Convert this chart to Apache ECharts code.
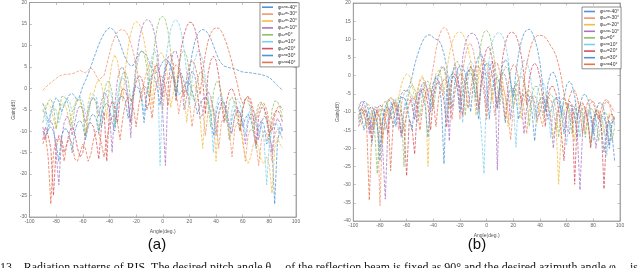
<!DOCTYPE html>
<html><head><meta charset="utf-8">
<script src="https://cdn.jsdelivr.net/npm/echarts@6/dist/echarts.min.js"></script>
<style>html,body{margin:0;padding:0;background:#fff;}#c{width:640px;height:268px;}</style>
</head><body><div id="c"></div>
<script>
// ---------- DATA ----------
const azLabels = ['-40°','-30°','-20°','-10°','0°','10°','20°','30°','40°'];
const xTicks = [-100,-80,-60,-40,-20,0,20,40,60,80,100];
const leftAngles = [-90,-88,-86,-84,-82,-80,-78,-76,-74,-72,
 -70,-68,-66,-64,-62,-60,-58,-56,-54,-52,
 -50,-48,-46,-44,-42,-40,-38,-36,-34,-32,
 -30,-28,-26,-24,-22,-20,-18,-16,-14,-12,
 -10,-8,-6,-4,-2,0,2,4,6,8,
 10,12,14,16,18,20,22,24,26,28,
 30,32,34,36,38,40,42,44,46,48,
 50,52,54,56,58,60,62,64,66,68,
 70,72,74,76,78,80,82,84,86,88,90];
const rightAngles = [-96,-94,-92,-90,-88,-86,-84,-82,-80,-78,
 -76,-74,-72,-70,-68,-66,-64,-62,-60,-58,
 -56,-54,-52,-50,-48,-46,-44,-42,-40,-38,
 -36,-34,-32,-30,-28,-26,-24,-22,-20,-18,
 -16,-14,-12,-10,-8,-6,-4,-2,0,2,
 4,6,8,10,12,14,16,18,20,22,
 24,26,28,30,32,34,36,38,40,42,
 44,46,48,50,52,54,56,58,60,62,
 64,66,68,70,72,74,76,78,80,82,
 84,86,88,90,92,94,96];

// (a) gains, dB
const gainA1 = [-3.5,-5,-8,-5.5,-3.5,-2.2,-3,-5.5,-4,-2.5,
 -1.5,-1.2,-1.8,-3,-1.5,0.5,1.8,3.3,5,6.8,
 8.5,10.2,11.6,12.8,13.7,14.1,13.9,13.2,12,10.4,
 8.6,7,5.8,5.2,5.4,6.8,8,8.6,8.4,7.5,
 6,4.5,3.5,3.8,5,6.2,6.8,6.5,5.2,3,
 0.5,-1.5,-1,0.5,1.5,1.2,-0.5,-3,-6,-4,
 -2.5,-2,-3,-6,-11,-6,-3.5,-2.8,-3.5,-6,
 -12,-7,-5,-4.5,-6,-9,-7,-6,-7,-10,
 -14,-9,-7.5,-8.5,-13,-11,-14,-27,-13,-9,-10];
const gainA2 = [-0.5,0.2,0.8,1.3,1.8,2.3,2.8,3.1,3.2,3.3,
 3.3,3.4,3.6,3.9,4.2,3.8,3.6,4.2,4.8,4.2,
 3,1.8,2.5,3,5.5,8,10.3,12,13.1,13.6,
 13.7,13.3,12.3,10.6,8.3,5.5,2,-3,1.5,4,
 5.5,5.8,5,3,-0.5,-5,0.5,2.5,3,2.2,
 -0.5,-6,-2,-0.5,-0.8,-3,-9,-4,-2.5,-2.8,
 -5,-11,-5.5,-4,-4.5,-7.5,-14,-8,-6.5,-7,
 -10,-16,-9.5,-8,-8.5,-11.5,-17,-11,-9.5,-10,
 -13,-18,-12,-10,-10.5,-13,-17,-11,-9.5,-10,-12];
const gainA3 = [-5.5,-4,-3.5,-4.5,-7,-9.5,-5.5,-3.8,-3.5,-5,
 -8.5,-6,-3.5,-2.5,-3,-5.5,-11,-3.5,-1,-1.5,
 1,2,1,-2.5,-7,2,6,7.8,6.5,2,
 -3,4.5,9.5,12.8,14.9,15.6,15.2,13.8,11.2,7.5,
 2.5,-4,3.5,7,8.3,8,6,2,-4.5,-1,
 2.5,3.5,2.5,-1,-8,-2,0.5,0.8,-1.5,-7,
 -14,-5,-2.5,-2.5,-5,-17,-6,-4,-4.2,-6.5,
 -12,-10,-6.5,-5.5,-7,-13,-16,-17.5,-16,-13,
 -12,-14,-17,-17.5,-16,-18,-24.5,-14,-11.5,-13,-14];
const gainA4 = [-9,-12,-9,-7.5,-9,-15,-22.5,-12,-8,-6.5,
 -7.5,-11,-8,-5,-4,-5,-8,-5.5,-3,-2.2,
 -3,-6.5,-3,-1,-1.5,-5,-15,-4,2,4.5,
 5,3,-2,-11.5,-1,6,10.8,13.8,15.4,16,
 15.8,14.8,12.5,8.5,2.5,-6,-18,0,6,8.5,
 8.7,6.5,2,-5,-2,2.5,4,3,-0.5,-7,
 -6,-2,-0.8,-1.8,-5,-11,-6,-3.5,-3.2,-5,
 -9,-10.5,-6.5,-5,-5.5,-8,-13,-8,-6,-6.5,
 -8.5,-12,-8,-6.5,-7,-10,-15,-9,-7,-8,-10];
const gainA5 = [-8,-5,-3,-2.5,-4,-9.5,-6,-2,-1.8,-2.8,
 -5,-9,-4.5,-2.5,-2.5,-4.5,-11,-6.5,-3,-2,
 -3.5,-10,-6,-1,1.5,1.5,-1,-9,-4,1,
 3.5,3.8,2,-3,-2,4,7.5,8.8,8.2,5,
 -2,5,10.5,14.5,16.4,16.8,16,13.2,8.5,2,
 -2,5,8.2,8.8,7.5,4,-2,-3,2,3.8,
 3.5,1,-4,-9,-1,1.5,1.5,-1,-6,-8,
 -3,-2,-3.5,-7.5,-10,-4.5,-2.5,-2.8,-5,-10,
 -6,-3.5,-3.2,-4.5,-8,-12,-5,-3,-3,-4.5,-7];
const gainA6 = [-5,-6.5,-10,-6,-4.5,-5,-8,-6,-3.5,-2.5,
 -3,-5.5,-4.5,-2.5,-2,-3,-6,-5,-2.5,-1.5,
 -2,-4.5,-9,-3,-0.5,-0.5,-2.5,-9,-1.5,1.5,
 2.5,1.5,-2.5,-8,-0.5,2.5,2,-1,-6,-1,
 4,7.5,8.8,6.8,-18,0,6,10.5,13.8,15.5,
 16,15.2,12.8,9,3.5,-4,2,6.5,8.6,8.4,
 6.5,2.5,-2,-6,-15,-4.5,-2,-1.8,-3.5,-7,
 -9,-5,-3,-2.5,-3.5,-6.5,-11,-6.5,-4.5,-5,
 -7,-11,-8.5,-12,-22.5,-13,-10,-8,-8.5,-11,-9];
const gainA7 = [-12,-9,-11,-14,-25,-14,-11,-11.5,-15,-13,
 -10,-9,-10.5,-14,-16,-15,-11,-8.5,-8,-9,
 -12,-16.5,-9,-5.5,-17,-5,-3,-4,-8,-2,
 0,-0.5,-3,-8,-2,1.5,3,2.5,0,-5,
 -3,2.5,5,5.5,2.5,-2,4,7.3,7.8,5.5,
 -3,5,9.5,12.5,14.5,15.4,15.3,14,11.5,7.5,
 2,-6,3.5,6.5,7.5,6.5,3,-3,-8,-3,
 -0.5,0,-1.5,-5,-10,-5,-2.5,-2,-3.5,-7,
 -13,-6.5,-4.5,-4.5,-6.5,-11,-8,-5.5,-5,-6,-8];
const gainA8 = [-10,-11,-9.5,-9,-10,-13,-17,-11,-9.5,-9.5,
 -11,-15,-10,-8,-7.5,-8.5,-12,-9,-6.5,-6,
 -7,-10.5,-6,-4,-3.5,-4.5,-8,-10,-4,-2,
 -1.8,-3,-7,-4,-0.5,0.5,0,-2.5,-8,-1.5,
 2,3,2.5,0,-4,2,5,6,5.2,2.5,
 -2,3,3.5,1.5,-1,4,8,10.8,12.5,13.4,
 13.7,13.5,12.8,11.6,10,8.3,6.8,5.8,5.2,5,
 4.8,4.7,4.5,4.3,4,3.8,3.7,3.7,3.6,3.5,
 3.4,3.3,3.2,3,2.8,2.5,2,1.3,0.7,0.1,-0.5];
const gainA9 = [-13,-11,-16,-27,-15,-12,-11.5,-13,-17,-13,
 -11.5,-13,-16.5,-17,-15,-13,-14,-17,-15.5,-12,
 -10,-10.5,-13,-16,-12,-8.5,-6.5,-6.5,-8,-12,
 -7,-3.5,-2,-2.5,-4.5,-9,-4,-0.5,0.5,0,
 -2.5,-7,-1,2,3,2.5,0,-4,1.5,4.5,
 5.5,4.8,2,-2,2.5,5.5,6.5,5.5,3,-1.5,
 4,8,11,12.8,13.8,14.1,14,13.3,12,10.3,
 8.3,6,3.5,1,-2,-3.5,-2.5,-1.8,-2.5,-5,
 -7.5,-5,-3.5,-3.5,-5,-8,-10,-6.5,-4.5,-4,-5];

// (b) gains, dB
const gainB1 = [-12,-9,-7,-7.5,-10.5,-15,-10,-13,-23.5,-12,
 -8.5,-6.5,-7,-9.5,-14,-8,-5,-4,-4.5,-3,
 -0.5,3,5.5,7.8,9.5,10.7,11.2,11.2,10.5,10,
 9.8,8.5,6,2.5,-3,-9,-2,1.5,2.8,2.5,
 0.5,-3.5,-10,-2,3,5.5,6,4,-2,-12,
 -4,-1,-0.5,-2.5,-7,-13,-6,-3.5,-3.5,-6,
 -12,-8,-5,-4.5,-6,-10,-18,-9,-6.5,-6,
 -7.5,-12,-10,-7,-6,-7,-10,-16,-10,-8,
 -8.5,-11,-17,-11,-9,-9.5,-12,-19,-13,-10.5,
 -11,-14,-21,-15,-12.5,-16,-23.5];
const gainB2 = [-7.8,-8.5,-9,-11,-15,-11,-9,-10,-35.8,-12,
 -11,-7.5,-6,-6.5,-9,-15,-8,-5,-4,-4.5,
 -7.5,-12,-5,-1.5,-0.5,-1.5,-6,-2,2.5,7,
 10.5,12.5,13.3,12.8,11,8,4,-2,-12,1,
 5.5,8.3,9,7,2.5,-10,-2,0.5,1,-0.5,
 -4,-11,-6,-3,-3,-5.5,-10,-17.7,-9,-5.5,
 -4.5,-5.5,-9,-16,-9,-6,-5.5,-7,-11,-14,
 -8,-6,-6.5,-9,-15,-9,-6.5,-6,-7.5,-12,
 -13,-8.5,-7,-7.5,-10,-16,-10,-7.5,-7,-8.5,
 -12,-11,-8,-7,-8,-10.5,-14];
const gainB3 = [-11,-13.5,-10,-8,-8,-10,-14,-11,-9,-18.8,
 -10,-7,-6,-7,-10,-6,-2.5,-0.5,0.5,0,
 -2,-6.5,-4,-1,0,-4,-25,-6,-2,0.5,
 1.5,0,-5,1,6,9,11,11.9,12,11.5,
 10,7.5,4,-2,-11,0,3.5,4.5,3.5,0,
 -7,-3,0,0.5,-1.5,-6,-14,-6,-3.5,-3.5,
 -6,-12,-7,-4.5,-4,-5.5,-9.5,-13,-7,-5,
 -5,-7,-11,-17,-13,-29.9,-15,-10,-8.5,-9,
 -12,-18,-11,-8.5,-8,-9.5,-13,-19,-12,-9.5,
 -9.5,-11.5,-16,-13,-10.5,-11,-13];
const gainB4 = [-9,-7,-7.5,-10,-16,-11,-8.5,-9,-12,-20,
 -34,-14,-9,-7.5,-8.5,-12,-17,-10,-7,-6.5,
 -8,-12,-8,-4,-2,-2,-4.5,-10,-4,0,
 0,2,2.5,0,-18,0,3,2,-8,5,
 9,10.9,11.6,11.7,10.9,9,5,-1,-9,1.5,
 4,2,-26,-1,1,0,-4,-12,-4,-2,
 -3,-7,-16,-9,-6,-5.5,-7.5,-12,-10,-7,
 -6.5,-8,-12,-20,-12,-9,-8.5,-10,-14,-16,
 -9.5,-11,-16,-31.5,-15,-11,-10,-11,-14,-20,
 -13,-11,-11.5,-14,-19,-13,-12];
const gainB5 = [-10,-9,-10.5,-14,-12,-9.5,-15,-27,-12,-8,
 -7,-8.5,-12,-9,-6.5,-6,-8.5,-25,-8,-4,
 -2.5,-3.5,-7.5,-11.5,-5,-2,-1.5,-3.5,-9,-4,
 0.5,2.5,2,-1.5,-9,-1,3,4,2.5,-2,
 -11,-1,2.5,0.5,-6,4,9.5,12,12.5,11.5,
 8.5,4,-3,-8,0.5,2.5,2,-1.5,-9,-3,
 -0.5,0,-1.5,-6,-14,-5,-3,-3,-5.5,-11,
 -9,-6,-5,-6,-9.5,-17,-10,-7.5,-7.5,-10,
 -16,-10.5,-8.5,-9,-11.5,-17,-11,-9,-9.5,-12,
 -18,-12,-10,-10.5,-13,-18,-14];
const gainB6 = [-13,-10,-9,-10,-13,-19,-12,-9.5,-9,-10.5,
 -15,-12,-8,-6.5,-7,-10,-16,-9,-5.5,-4.5,
 -5.5,-9,-13,-6,-3,-2.5,-4,-9,-6,-1.5,
 0,-0.5,-4,-12,-3,1,2,0.5,-4,-13,
 -2,2.5,4,3,-1,-8,-15,-27,-2,5,
 9,11,11.7,11.8,11,8.8,5,-1,-8,-19.7,
 -4,2,4.3,4,1.5,-3,-12,-5,-2,-1.5,
 -3.5,-8,-17,-9,-6,-6,-8,-13,-19,-11,
 -8.5,-8.5,-11,-17,-12,-9.5,-9.5,-12,-18,-13,
 -10.5,-11,-14,-22,-14,-12,-13];
const gainB7 = [-14,-11,-9.5,-10,-12.5,-18,-12,-9,-8,-9,
 -12,-16,-10,-7.5,-7.5,-10,-16,-14,-27.6,-12,
 -14,-21.6,-9,-5,-3.5,-4.5,-8,-15,-6,-2.5,
 -1.5,-3,-7,-14.2,-5,-1,0.5,-0.5,-4,-11,
 -3,1,2.5,1.5,-2,-9,-1,4.5,7.5,8,
 5,-2,-9,-2,5,9,11.2,12,11.9,11,
 9,5.5,0,-8,-1,2.5,3.5,2.5,-0.5,-6,
 -14,-5.5,-3,-3,-5,-9.5,-16,-23.4,-10,-7,
 -8,-29.9,-11,-8,-7.5,-9,-13,-20,-12,-9.5,
 -10,-14,-31.2,-15,-11,-10.5,-12];
const gainB8 = [-9,-11,-15,-11.5,-9,-8.5,-10,-14,-20,-12,
 -9,-8.5,-10,-14,-12,-8,-6,-6,-7.5,-12,
 -15,-8,-5,-4,-5,-8.5,-17,-6,-2,-0.5,
 -1.5,-7,-24.3,-4,-0.5,0.5,-0.5,-3.5,-10,-5,
 -0.5,1.5,1,-1.5,-7,-12,-2,2,3.5,3,
 0.5,-4,-9,-1.5,3,4.5,3.5,-2,-6,1,
 6,9.5,11.7,12.6,12.8,12,10.2,7.5,3.5,-2.5,
 -10,-2,0.5,1,-0.5,-4,-11,-6,-2.5,-1.5,
 -2.5,-5.5,-12,-8,-5.5,-5,-6.5,-10,-16,-10,
 -7.5,-7.5,-9.5,-14,-20,-13,-11];
const gainB9 = [-11,-9,-10,-13.5,-34.3,-14,-10.5,-10,-12,-17,
 -12,-9,-26.2,-12,-9,-8.5,-10,-14,-11,-7.5,
 -6,-6.5,-9,-15,-8.5,-5,-3.5,-4,-7,-14,
 -6,-2.5,-1,-1.5,-4.5,-12,-5,-1,0.5,0,
 -2.5,-9,-4,0.5,2.5,2.5,0.5,-4.5,-12,-3,
 1.5,3.5,3.5,1,-5,-12,-3,1.5,3,2.5,
 -1,-8,-1,3,6.5,9,10.5,11,11.1,11,
 10.5,9.5,8.2,7.2,5.5,3,-0.5,-5,-9,-6,
 -4,-4,-6,-10,-16,-9.5,-7,-6.5,-7.5,-10,
 -12,-9,-7,-6.5,-7.5,-9,-10];

const gainsA = [gainA1,gainA2,gainA3,gainA4,gainA5,gainA6,gainA7,gainA8,gainA9];
const gainsB = [gainB1,gainB2,gainB3,gainB4,gainB5,gainB6,gainB7,gainB8,gainB9];
const captionParts = ['13.   Radiation patterns of RIS. The desired pitch angle θ', 'des',
  ' of the reflection beam is fixed as 90° and the desired azimuth angle φ', 'des', ' is set as'];

// ---------- STYLE ----------
const palette = ['#4f94d4','#f0956e','#f0bd45','#a875c2','#8fc064','#7fcdef','#d4525f','#4f94d4','#e8734e'];
const axisGray = '#9a9a9a';
const labelGray = '#666';

const chart = echarts.init(document.getElementById('c'), null, {renderer:'canvas'});

function zip(xs, ys){ return xs.map((x,i)=>[x, ys[i]]); }
const namesA = azLabels.map(a => 'φaz=' + a);
const namesB = azLabels.map(a => 'φaz=' + a + '\u200b');

const series = [];
gainsA.forEach((g,i)=>series.push({
  name: namesA[i], type:'line', xAxisIndex:0, yAxisIndex:0, data: zip(leftAngles,g),
  symbol:'none', color: palette[i], lineStyle:{width:0.9, type:[3,1.4], color: palette[i], opacity:0.85},
  clip:true, animation:false
}));
gainsB.forEach((g,i)=>series.push({
  name: namesB[i], type:'line', xAxisIndex:2, yAxisIndex:2, data: zip(rightAngles,g),
  symbol:'none', color: palette[i], lineStyle:{width:0.9, type:[3,1.4], color: palette[i], opacity:0.85},
  clip:true, animation:false
}));

function xAx(grid, top, show){
  return { gridIndex: grid, type:'value', min:-100, max:100, interval:20, position: top ? 'top':'bottom',
    axisLine:{show:true, onZero:false, lineStyle:{color:axisGray, width:0.8}},
    axisTick:{show:true, inside:true, length:2.5, lineStyle:{color:axisGray, width:0.6}},
    axisLabel:{show:show, fontSize:5, color:labelGray, margin:2.5, fontFamily:'Liberation Sans'},
    splitLine:{show:false},
    name: show ? 'Angle(deg.)' : '', nameLocation:'middle', nameGap:9,
    nameTextStyle:{fontSize:5, color:'#555', fontFamily:'Liberation Sans'} };
}
function yAx(grid, right, show, mn, mx){
  return { gridIndex: grid, type:'value', min:mn, max:mx, interval:5, position: right ? 'right':'left',
    axisLine:{show:true, onZero:false, lineStyle:{color:axisGray, width:0.8}},
    axisTick:{show:true, inside:true, length:2.5, lineStyle:{color:axisGray, width:0.6}},
    axisLabel:{show:show, fontSize:5, color:labelGray, margin:2.5, fontFamily:'Liberation Sans'},
    splitLine:{show:false},
    name: show ? 'Gain(dB)' : '', nameLocation:'middle', nameGap:12,
    nameTextStyle:{fontSize:5, color:'#555', fontFamily:'Liberation Sans'} };
}

function legendFmt(n){ return '{a|φ}{b|az}{a|' + n.replace('\u200b','').slice(3) + '}'; }
const legendText = { fontSize:5, color:'#333',
  rich:{ a:{fontSize:5, fontFamily:'Liberation Sans', color:'#333'},
         b:{fontSize:3.5, fontFamily:'Liberation Sans', color:'#333'} } };

// caption layout via text measurement
const capFamily = 'Liberation Serif';
const ctx = document.createElement('canvas').getContext('2d');
function tw(t, fs){ ctx.font = fs + 'px "' + capFamily + '"'; return ctx.measureText(t).width; }
const base = 13;
let wBase = tw(captionParts[0],base) + tw(captionParts[1],base*0.7) + tw(captionParts[2],base) + tw(captionParts[3],base*0.7);
let capFs = (wBase > 100) ? base * 628 / wBase : 12;
if (!(capFs > 8 && capFs < 16)) capFs = 12;
let cx = 0; const capEls = [];
captionParts.forEach((t,i)=>{
  const sub = (i===1 || i===3);
  const fs = sub ? capFs*0.7 : capFs;
  capEls.push({type:'text', x: cx, y: sub ? 278 : 274, silent:true,
    style:{text:t, fill:'#111', fontSize: fs, fontFamily: capFamily, align:'left', verticalAlign:'bottom'}});
  cx += tw(t, fs);
});

const legendCommon = { orient:'vertical', icon:'rect', itemHeight:1.6,
  padding:[2,2,2,2], borderColor:'#444', borderWidth:0.6, backgroundColor:'#fff',
  formatter:legendFmt, textStyle:legendText, selectedMode:false };

const option = {
  animation:false,
  backgroundColor:'#fff',
  grid:[
    {left:29.5, top:1, width:266.5, height:216, show:true, borderColor:axisGray, borderWidth:0.8, backgroundColor:'#fff'},
    {left:353.3, top:3, width:266.7, height:218, show:true, borderColor:axisGray, borderWidth:0.8, backgroundColor:'#fff'}
  ],
  xAxis:[ xAx(0,false,true), xAx(0,true,false), xAx(1,false,true), xAx(1,true,false) ],
  yAxis:[ yAx(0,false,true,-30,20), yAx(0,true,false,-30,20), yAx(1,false,true,-40,20), yAx(1,true,false,-40,20) ],
  legend:[
    Object.assign({ data:namesA, left:260, top:2.7, itemWidth:11, itemGap:1.9 }, legendCommon),
    Object.assign({ data:namesB, left:582, top:7, itemWidth:11, itemGap:1.6 }, legendCommon)
  ],
  graphic:[
    {type:'text', x:157, y:245, silent:true, style:{text:'(a)', fill:'#111', fontSize:15, fontFamily:'Liberation Sans', align:'center', verticalAlign:'middle'}},
    {type:'text', x:477, y:245, silent:true, style:{text:'(b)', fill:'#111', fontSize:15, fontFamily:'Liberation Sans', align:'center', verticalAlign:'middle'}}
  ].concat(capEls),
  series: series
};
chart.setOption(option);
</script></body></html>
